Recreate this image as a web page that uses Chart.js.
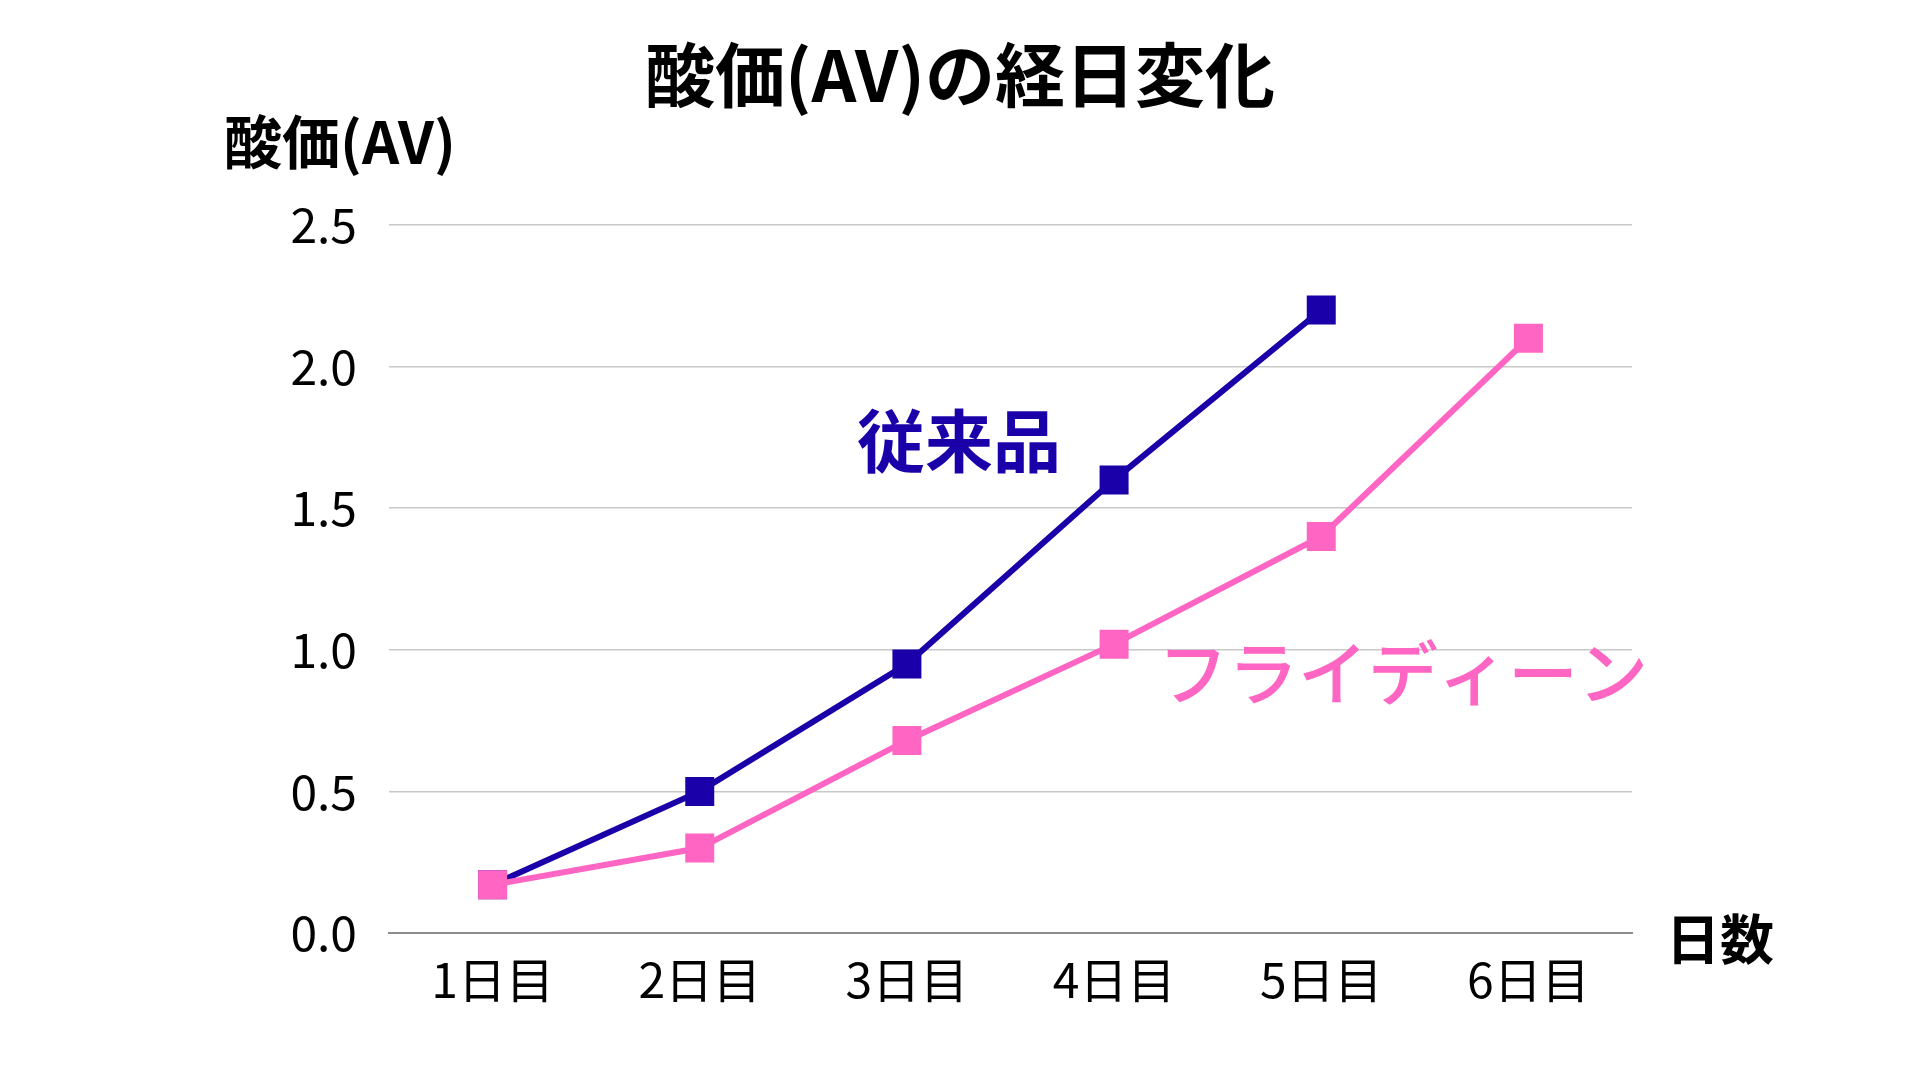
<!DOCTYPE html>
<html><head><meta charset="utf-8">
<script src="https://cdn.jsdelivr.net/npm/chart.js@4/dist/chart.umd.min.js"></script>
<style>html,body{margin:0;padding:0;background:#fff;}#wrap{width:1920px;height:1080px;position:relative;}</style>
</head><body><div id="wrap"><canvas id="c" width="1920" height="1080"></canvas></div>
<script>
const categories = ['1日目','2日目','3日目','4日目','5日目','6日目'];
const conventional = [0.17, 0.5, 0.95, 1.6, 2.2, null];
const frydeen = [0.17, 0.3, 0.68, 1.02, 1.4, 2.1];
const seriesNames = ['従来品','フライディーン'];
const yTicks = [0, 0.5, 1.0, 1.5, 2.0, 2.5];
const titleText = '酸価(AV)の経日変化';
const yTitle = '酸価(AV)';
const xTitle = '日数';

const BLUE = '#1a00a8', PINK = '#ff66c4';
const FONT = '"Noto Sans CJK JP", "Noto Sans", sans-serif';

const textPlugin = {
  id: 'texts',
  afterDraw(chart) {
    const ctx = chart.ctx;
    ctx.save();
    ctx.textBaseline = 'middle';
    ctx.fillStyle = '#000';
    ctx.textAlign = 'center';
    ctx.font = 'bold 70px ' + FONT;
    ctx.fillText(titleText, 960, 75);
    ctx.textAlign = 'left';
    ctx.font = 'bold 58px ' + FONT;
    ctx.fillText(yTitle, 224, 142);
    ctx.font = 'bold 54px ' + FONT;
    ctx.fillText(xTitle, 1666, 939);
    ctx.fillStyle = BLUE;
    ctx.font = 'bold 68px ' + FONT;
    ctx.fillText(seriesNames[0], 857, 441);
    ctx.fillStyle = PINK;
    ctx.font = '500 70px ' + FONT;
    ctx.fillText(seriesNames[1], 1158, 673);
    ctx.restore();
  }
};

new Chart(document.getElementById('c'), {
  type: 'line',
  data: {
    labels: categories,
    datasets: [
      { label: seriesNames[0], data: conventional, borderColor: BLUE, backgroundColor: BLUE, borderWidth: 6,
        pointStyle: 'rect', pointRadius: 20.5, pointHoverRadius: 20.5, pointBorderWidth: 0, order: 2 },
      { label: seriesNames[1], data: frydeen, borderColor: PINK, backgroundColor: PINK, borderWidth: 6,
        pointStyle: 'rect', pointRadius: 20.5, pointHoverRadius: 20.5, pointBorderWidth: 0, order: 1 }
    ]
  },
  options: {
    responsive: false, animation: false, devicePixelRatio: 1,
    layout: { padding: { left: 0, top: 225, right: 288, bottom: 0 } },
    plugins: { legend: { display: false }, tooltip: { enabled: false }, title: { display: false } },
    scales: {
      x: {
        offset: true,
        grid: { display: false },
        border: { display: true, color: '#8c8c8c', width: 2 },
        ticks: { color: '#000', font: { family: FONT, size: 48, weight: 400 }, padding: 10 },
        afterFit(s) { s.height = 147; }
      },
      y: {
        min: 0, max: 2.5,
        afterBuildTicks(s) { s.ticks = yTicks.map(v => ({ value: v })); },
        grid: { color: '#c8c8c8', lineWidth: 1.5, drawTicks: false },
        border: { display: false },
        ticks: { color: '#000', font: { family: FONT, size: 48, weight: 400 }, padding: 32, callback: v => v.toFixed(1) },
        afterFit(s) { s.width = 389; }
      }
    }
  },
  plugins: [textPlugin]
});
</script></body></html>
